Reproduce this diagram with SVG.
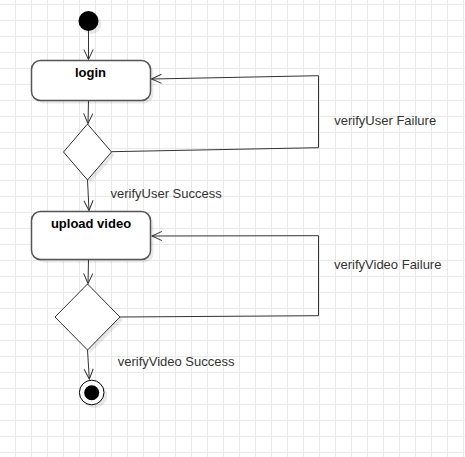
<svg xmlns="http://www.w3.org/2000/svg" width="465" height="457" viewBox="0 0 465 457">
  <style>
    .node { fill: #ffffff; }
    .box { stroke: #555555; stroke-width: 1.5; }
    .dia { stroke: #333333; stroke-width: 1; }
    .shadow { fill: #000000; fill-opacity: 0.09; stroke: none; }
    .edge { fill: none; stroke: #333333; stroke-width: 1; marker-end: url(#arrow); }
    .loop { fill: none; stroke: #333333; stroke-width: 1; marker-end: url(#arrow); }
    .title { font-family: "Liberation Sans", Arial, sans-serif; font-size: 13px; font-weight: bold; fill: #000000; text-anchor: middle; }
    .lbl { font-family: "Liberation Sans", Arial, sans-serif; font-size: 13px; fill: #333333; }
  </style>
  <defs>
    <pattern id="grid" width="16" height="16" patternUnits="userSpaceOnUse">
      <path d="M15.5 0V16M0 4.5H16" fill="none" stroke="#e9e9e9" stroke-width="1"/>
    </pattern>
    <marker id="arrow" viewBox="-12 -7 14 14" refX="0" refY="0" markerWidth="14" markerHeight="14" markerUnits="userSpaceOnUse" orient="auto">
      <path d="M-10,-4.6 L0,0 L-10,4.6" fill="none" stroke="#333333" stroke-width="1"/>
    </marker>
  </defs>

  <rect x="0" y="0" width="465" height="457" fill="#ffffff"/>
  <rect x="0" y="0" width="465" height="457" fill="url(#grid)"/>

  <g id="connectors">
    <path class="edge" d="M88.5 31 L88.5 59.5"/>
    <path class="edge" d="M88.5 100.5 L88 123.5"/>
    <path class="edge" d="M87.5 180 L89 210.5"/>
    <path class="edge" d="M88.5 260 L88 283.5"/>
    <path class="edge" d="M87.5 350 L89.3 379"/>
    <path class="loop" d="M111.5 151.7 L318.5 147.7 L318.5 75.7 L151.5 79"/>
    <path class="loop" d="M120 317 L318.5 315.7 L318.5 235.7 L152 236"/>
  </g>

  <g id="start">
    <circle class="shadow" cx="91.5" cy="24" r="10"/>
    <circle cx="88.5" cy="21" r="10" fill="#000000"/>
  </g>

  <g id="login">
    <rect class="shadow" x="34.5" y="63.5" width="119" height="40" rx="9"/>
    <rect class="node box" x="31.5" y="60.5" width="119" height="40" rx="9"/>
    <text class="title" x="90.5" y="77">login</text>
  </g>

  <g id="decision-user">
    <polygon class="shadow" points="90.5,127 114.5,155 90.5,183 66.5,155"/>
    <polygon class="node dia" points="87.5,124 111.5,152 87.5,180 63.5,152"/>
  </g>

  <g id="upload-video">
    <rect class="shadow" x="34.5" y="214.5" width="119" height="48" rx="9"/>
    <rect class="node box" x="31.5" y="211.5" width="119" height="48" rx="9"/>
    <text class="title" x="91" y="228">upload video</text>
  </g>

  <g id="decision-video">
    <polygon class="shadow" points="90.5,287 123,320 90.5,353 58,320"/>
    <polygon class="node dia" points="87.5,284 120,317 87.5,350 55,317"/>
  </g>

  <g id="end">
    <circle class="shadow" cx="94.7" cy="395.5" r="12.5"/>
    <circle cx="91.7" cy="392.5" r="12.3" fill="#ffffff" stroke="#000000" stroke-width="1"/>
    <circle cx="91.7" cy="392.8" r="7.5" fill="#000000"/>
  </g>

  <g id="labels">
    <text class="lbl" x="110.5" y="197.5">verifyUser Success</text>
    <text class="lbl" x="334.3" y="124.5">verifyUser Failure</text>
    <text class="lbl" x="334" y="269">verifyVideo Failure</text>
    <text class="lbl" x="117.7" y="365.7">verifyVideo Success</text>
  </g>
</svg>
